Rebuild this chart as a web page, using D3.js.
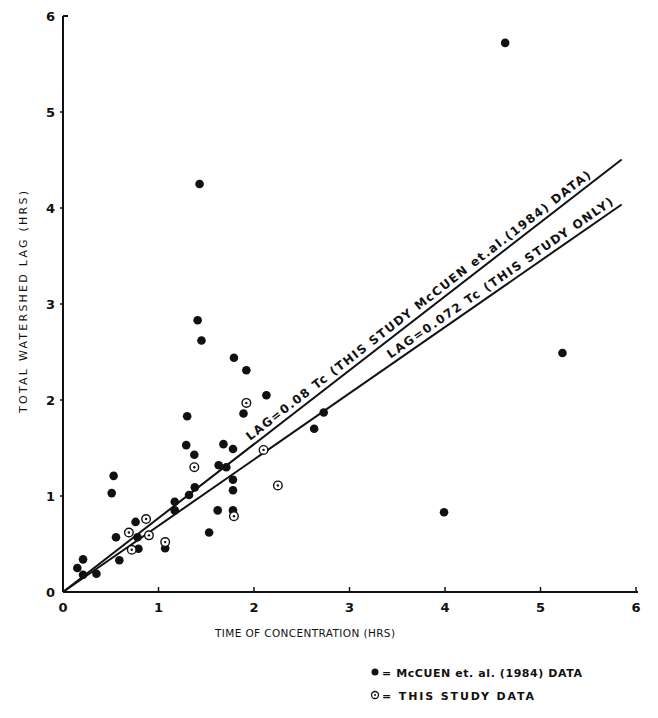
<!DOCTYPE html>
<html><head><meta charset="utf-8">
<script src="https://cdn.jsdelivr.net/npm/d3@7"></script>
<style>body{margin:0;background:#fff}svg{display:block}text{font-family:"DejaVu Sans",sans-serif;font-weight:bold;fill:#111}text.title{font-weight:normal}</style>
</head><body>
<svg id="c" width="658" height="718"></svg>
<script>
// McCuen et al. (1984) data: [Tc, Lag] (hrs)
const mccuenX = [0.15,0.21,0.35,0.21,0.51,0.53,0.555,0.59,0.76,0.78,0.79,1.07,1.17,1.17,1.30,1.29,1.375,1.38,1.32,1.41,1.45,1.43,1.53,1.62,1.63,1.71,1.68,1.78,1.78,1.78,1.78,1.79,1.92,1.89,2.13,2.63,2.73,3.99,4.63,5.23];
const mccuenY = [0.25,0.34,0.19,0.18,1.03,1.21,0.57,0.33,0.73,0.57,0.45,0.455,0.94,0.85,1.83,1.53,1.43,1.09,1.01,2.83,2.62,4.25,0.62,0.85,1.32,1.30,1.54,1.49,1.17,1.06,0.85,2.44,2.31,1.86,2.05,1.70,1.87,0.83,5.72,2.49];
// This study data
const studyX = [0.69,0.87,0.72,0.90,1.07,1.375,1.79,1.92,2.10,2.25];
const studyY = [0.62,0.76,0.44,0.59,0.52,1.30,0.79,1.97,1.48,1.11];
// Fitted lines (slope in chart units) and end point
const lineSlopes = [0.77, 0.69];
const lineEndX = 5.85;
const lineLabels = ["LAG=0.08 Tc (THIS STUDY  McCUEN et.al.(1984) DATA)", "LAG=0.072 Tc (THIS STUDY ONLY)"];
const xTicks = [0,1,2,3,4,5,6];
const yTicks = [0,1,2,3,4,5,6];
const legendLabels = ["= McCUEN  et. al. (1984) DATA", "= THIS STUDY DATA"];

const svg = d3.select("#c");
const x = d3.scaleLinear().domain([0,6]).range([63,636]);
const y = d3.scaleLinear().domain([0,6]).range([592,16]);

// axes
svg.append("line").attr("x1",x(0)).attr("x2",x(6)+2).attr("y1",y(0)).attr("y2",y(0)).attr("stroke","#111").attr("stroke-width",2);
svg.append("line").attr("x1",x(0)).attr("x2",x(0)).attr("y1",y(0)).attr("y2",y(6)).attr("stroke","#111").attr("stroke-width",2);
svg.append("line").attr("x1",x(0)).attr("x2",x(0)+5).attr("y1",y(6)).attr("y2",y(6)).attr("stroke","#111").attr("stroke-width",2);
svg.selectAll(".xt").data(xTicks.slice(1)).enter().append("line")
  .attr("x1",d=>x(d)).attr("x2",d=>x(d)).attr("y1",y(0)).attr("y2",y(0)-5).attr("stroke","#111").attr("stroke-width",1.5);
svg.selectAll(".yt").data(yTicks.slice(1,6)).enter().append("line")
  .attr("x1",x(0)-3).attr("x2",x(0)).attr("y1",d=>y(d)).attr("y2",d=>y(d)).attr("stroke","#111").attr("stroke-width",1.5);
svg.selectAll(".xl").data(xTicks).enter().append("text")
  .attr("x",d=>x(d)).attr("y",y(0)+20).attr("text-anchor","middle").attr("font-size",13).text(d=>d);
svg.selectAll(".yl").data(yTicks).enter().append("text")
  .attr("x",x(0)-8).attr("y",d=>y(d)+5).attr("text-anchor","end").attr("font-size",13).text(d=>d);

svg.append("text").attr("class","title").attr("x",305).attr("y",637).attr("text-anchor","middle").attr("font-size",10.5)
  .attr("textLength",180).attr("lengthAdjust","spacing").text("TIME OF CONCENTRATION (HRS)");
svg.append("text").attr("class","title").attr("transform","translate(27,302) rotate(-90)").attr("text-anchor","middle").attr("font-size",11)
  .attr("textLength",222).attr("lengthAdjust","spacing").text("TOTAL WATERSHED LAG (HRS)");

// fitted lines
lineSlopes.forEach((s,i)=>{
  svg.append("line").attr("x1",x(0)).attr("y1",y(0)).attr("x2",x(lineEndX)).attr("y2",y(s*lineEndX))
    .attr("stroke","#111").attr("stroke-width",2);
});
const labelStart = [1.99, 3.46];
const labelLen = [432, 272];
lineSlopes.forEach((s,i)=>{
  const px = x(labelStart[i]), py = y(s*labelStart[i]);
  const ang = Math.atan2(y(0)-y(s), x(1)-x(0))*180/Math.PI;
  svg.append("text").attr("transform",`translate(${px},${py}) rotate(${-ang}) translate(0,-5)`)
    .attr("font-size",12).attr("textLength",labelLen[i]).attr("lengthAdjust","spacing").text(lineLabels[i]);
});

// points
const mcc = mccuenX.map((v,i)=>[v,mccuenY[i]]);
const st = studyX.map((v,i)=>[v,studyY[i]]);
svg.selectAll(".m").data(mcc).enter().append("circle")
  .attr("cx",d=>x(d[0])).attr("cy",d=>y(d[1])).attr("r",4.3).attr("fill","#111");
svg.selectAll(".s").data(st).enter().append("circle")
  .attr("cx",d=>x(d[0])).attr("cy",d=>y(d[1])).attr("r",4.3).attr("fill","#fff").attr("stroke","#111").attr("stroke-width",1.4);
svg.selectAll(".sd").data(st).enter().append("circle")
  .attr("cx",d=>x(d[0])).attr("cy",d=>y(d[1])).attr("r",1.2).attr("fill","#111");

// legend
svg.append("circle").attr("cx",375).attr("cy",672).attr("r",3.5).attr("fill","#111");
svg.append("text").attr("x",382).attr("y",677).attr("font-size",11).attr("textLength",200).attr("lengthAdjust","spacing").text(legendLabels[0]);
svg.append("circle").attr("cx",375).attr("cy",695).attr("r",3.5).attr("fill","#fff").attr("stroke","#111").attr("stroke-width",1.3);
svg.append("circle").attr("cx",375).attr("cy",695).attr("r",1).attr("fill","#111");
svg.append("text").attr("x",382).attr("y",700).attr("font-size",11).attr("textLength",152).attr("lengthAdjust","spacing").text(legendLabels[1]);
</script>
</body></html>
